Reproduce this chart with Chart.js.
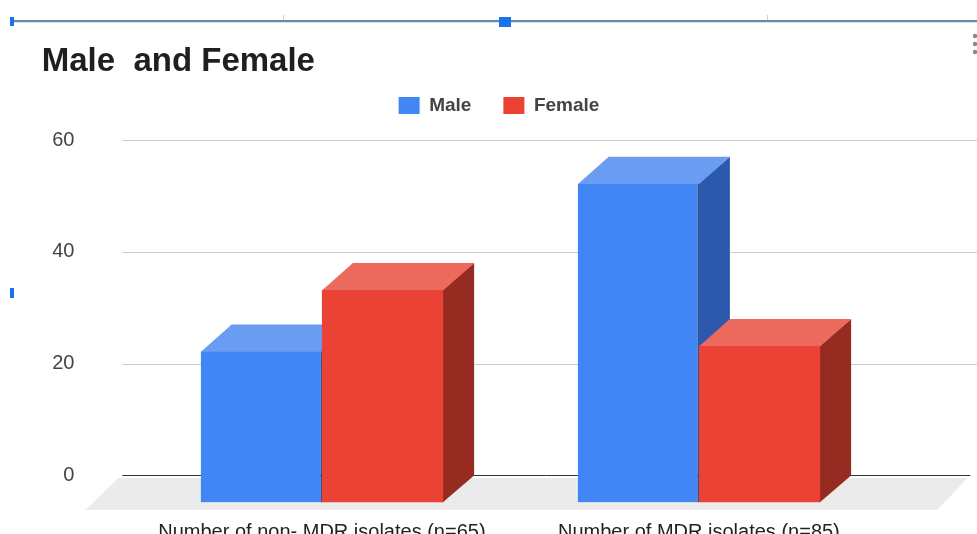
<!DOCTYPE html>
<html><head><meta charset="utf-8">
<style>html,body{margin:0;padding:0;background:#fff;overflow:hidden}canvas{display:block}</style>
<script src="https://cdn.jsdelivr.net/npm/chart.js@4.4.1/dist/chart.umd.min.js"></script>
</head><body>
<canvas id="c" width="977" height="534"></canvas>
<script>
// ---- data ----
const categories = ['Number of non- MDR isolates (n=65)', 'Number of MDR isolates (n=85)'];
const seriesNames = ['Male', 'Female'];
const maleValues = [27, 57];
const femaleValues = [38, 28];
const yTickValues = [0, 20, 40, 60];
const titleText = 'Male  and Female';

// ---- styling ----
const FONT = "'Liberation Sans', Arial, Helvetica, sans-serif";
const FRONT_MAX = 64.83;   // front-plane axis range
const DEPTH_VAL = 4.83;    // 3D depth expressed in axis units
const DX = 31;             // horizontal 3D offset
const colors = {
  Male:   {front: '#4285F4', top: '#6A9CF2', side: '#2C59AD', edge: '#23447F'},
  Female: {front: '#EA4335', top: '#EC6A5D', side: '#962B22', edge: '#EA4335'}
};

const threeD = {
  id: 'threeD',
  beforeDatasetsDraw(chart) {
    const ctx = chart.ctx, ca = chart.chartArea;
    const yb = chart.scales.yb, y = chart.scales.y;
    const back0 = yb.getPixelForValue(0), front0 = y.getPixelForValue(0);
    ctx.save();
    // floor
    ctx.fillStyle = '#EBEBEB';
    ctx.beginPath();
    ctx.moveTo(ca.left - 15, back0 + 2.5);
    ctx.lineTo(ca.right + 80, back0 + 2.5);
    ctx.lineTo(ca.right + 50, front0 + 7.5);
    ctx.lineTo(ca.left - 48, front0 + 7.5);
    ctx.closePath();
    ctx.fill();
    // gridlines on the back plane
    yTickValues.forEach(v => {
      const py = Math.round(yb.getPixelForValue(v)) + 0.5;
      ctx.strokeStyle = v === 0 ? '#333333' : '#CCCCCC';
      ctx.lineWidth = 1;
      ctx.beginPath();
      ctx.moveTo(ca.left - 11, py);
      ctx.lineTo(v === 0 ? ca.right + 83 : chart.width, py);
      ctx.stroke();
    });
    // editor decorations (selection frame of the sheet)
    ctx.fillStyle = '#6E8799';
    ctx.fillRect(12, 20, chart.width - 12, 2);
    ctx.fillStyle = '#D6E6F5';
    ctx.fillRect(12, 22, chart.width - 12, 1);
    ctx.fillStyle = '#1A73E8';
    ctx.fillRect(10, 17, 4, 9);
    ctx.fillRect(499, 17, 12, 10);
    ctx.fillRect(10, 288, 4, 10);
    ctx.fillStyle = '#CFCFCF';
    ctx.fillRect(283, 15, 1, 5);
    ctx.fillRect(767, 15, 1, 5);
    ctx.fillStyle = '#8A8A8A';
    [36, 44, 52].forEach(cy => { ctx.beginPath(); ctx.arc(975, cy, 2.2, 0, Math.PI * 2); ctx.fill(); });

    // 3D top and side faces of every bar, in series order, before the library draws the front faces
    const dy = front0 - back0;
    chart.data.datasets.forEach((ds, i) => {
      const c = colors[ds.label];
      chart.getDatasetMeta(i).data.forEach(bar => {
        const {x, y: ty, base, width} = bar.getProps(['x', 'y', 'base', 'width'], true);
        const l = x - width / 2, r = x + width / 2;
        ctx.fillStyle = c.side;
        ctx.beginPath();
        ctx.moveTo(r - 0.5, ty); ctx.lineTo(r + DX, ty - dy); ctx.lineTo(r + DX, base - dy); ctx.lineTo(r - 0.5, base);
        ctx.closePath(); ctx.fill();
        ctx.fillStyle = c.top;
        ctx.beginPath();
        ctx.moveTo(l, ty + 0.5); ctx.lineTo(l + DX, ty - dy); ctx.lineTo(r + DX, ty - dy); ctx.lineTo(r, ty + 0.5);
        ctx.closePath(); ctx.fill();
      });
    });
    ctx.restore();
  }
};

new Chart(document.getElementById('c'), {
  type: 'bar',
  data: {
    labels: categories,
    datasets: [
      {label: seriesNames[0], data: maleValues, backgroundColor: colors.Male.front, borderColor: colors.Male.edge,
       borderWidth: {top: 0, right: 1.5, bottom: 0, left: 0}, borderSkipped: false, xAxisID: 'x', yAxisID: 'y'},
      {label: seriesNames[1], data: femaleValues, backgroundColor: colors.Female.front, borderWidth: 0, xAxisID: 'x', yAxisID: 'y'}
    ]
  },
  options: {
    responsive: false,
    animation: false,
    devicePixelRatio: 1,
    events: [],
    categoryPercentage: 0.643,
    barPercentage: 1,
    layout: {padding: {left: 41.7, right: 20.7, top: 0, bottom: 0}},
    scales: {
      x: {
        type: 'category', position: 'bottom',
        grid: {display: false, drawTicks: false},
        border: {display: false},
        ticks: {padding: 18, color: '#222222', font: {family: FONT, size: 20}, maxRotation: 0, autoSkip: false},
        afterFit: s => { s.height = 31.5; s.paddingLeft = 0; s.paddingRight = 0; }
      },
      xt: {
        type: 'category', position: 'top', display: true,
        grid: {display: false, drawTicks: false},
        border: {display: false},
        ticks: {display: false},
        afterFit: s => { s.height = 15; s.paddingLeft = 0; s.paddingRight = 0; }
      },
      y: {type: 'linear', display: false, min: 0, max: FRONT_MAX},
      yb: {
        type: 'linear', position: 'left', min: -DEPTH_VAL, max: FRONT_MAX - DEPTH_VAL,
        grid: {display: false, drawTicks: false},
        border: {display: false},
        ticks: {padding: 59, color: '#444444', font: {family: FONT, size: 20}},
        afterBuildTicks: s => { s.ticks = yTickValues.map(v => ({value: v})); },
        afterFit: s => { s.width = 91.7; s.paddingTop = 0; s.paddingBottom = 0; }
      },
      yr: {
        type: 'linear', position: 'right', min: 0, max: 1,
        grid: {display: false, drawTicks: false},
        border: {display: false},
        ticks: {display: false},
        afterFit: s => { s.width = 68.9; s.paddingTop = 0; s.paddingBottom = 0; }
      }
    },
    plugins: {
      tooltip: {enabled: false},
      title: {
        display: true, text: titleText, align: 'start', color: '#1F1F1F',
        font: {family: FONT, size: 33, weight: 'bold', lineHeight: 1.2},
        padding: {top: 42.1, bottom: -17.7}
      },
      legend: {
        position: 'top', align: 'center',
        labels: {boxWidth: 21, boxHeight: 17, padding: 32, color: '#444444', font: {family: FONT, size: 19, weight: 'bold'},
          generateLabels: chart => Chart.defaults.plugins.legend.labels.generateLabels(chart).map(it => Object.assign(it, {lineWidth: 0}))}
      }
    }
  },
  plugins: [threeD]
});
</script>
</body></html>
